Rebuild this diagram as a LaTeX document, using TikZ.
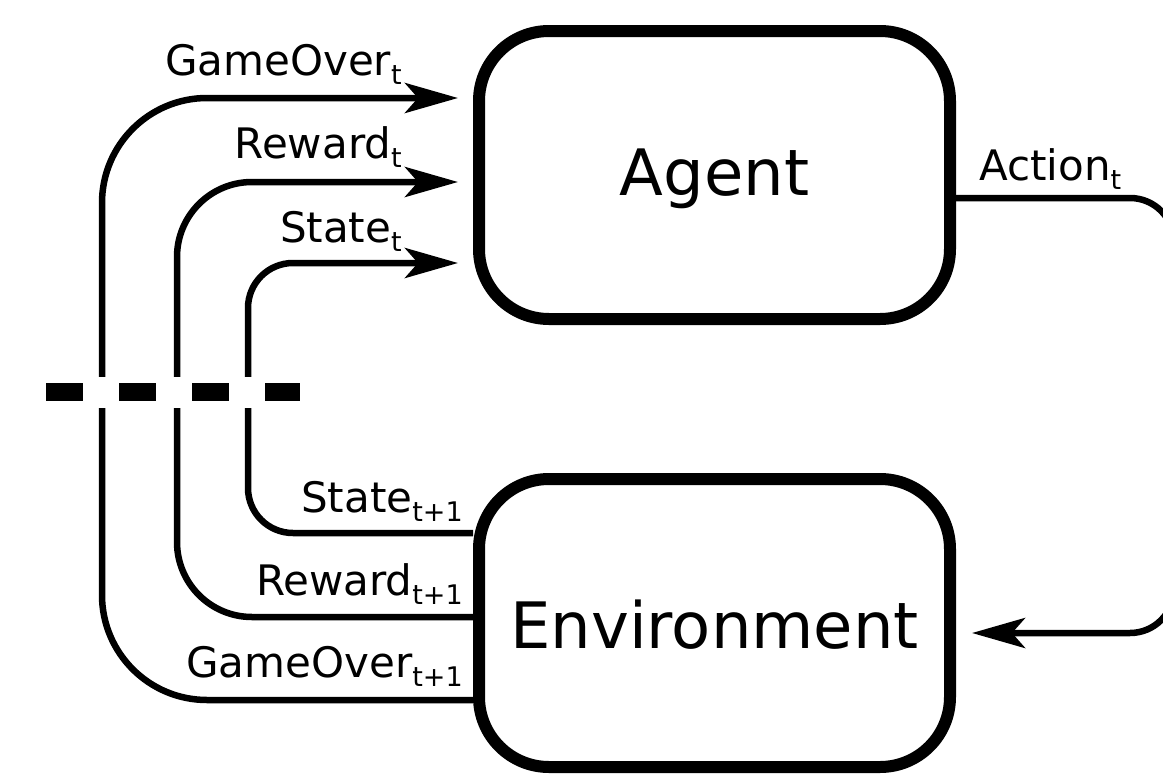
\documentclass[tikz,border=0pt]{standalone}
\usepackage{fontspec}
\setmainfont{DejaVu Sans}
\usetikzlibrary{arrows.meta}
% lowered, smaller index after a signal name
\newcommand\lowsub[1]{\raisebox{-9pt}{\fontsize{27}{27}\selectfont #1}}
\begin{document}
\begin{tikzpicture}[x=1pt,y=-1pt,
  panel/.style={draw, line width=12pt, rounded corners=70pt,
    minimum width=471pt, minimum height=288pt, inner sep=0pt,
    font=\fontsize{64}{64}\selectfont},
  conn/.style={line width=6.5pt, rounded corners=#1},
  into/.style={-{Stealth[length=53pt,width=30pt,inset=13pt]}},
  sig/.style={inner sep=0pt, font=\fontsize{42}{42}\selectfont}]
\useasboundingbox (0,0) rectangle (1163,774);
\clip (0,0) rectangle (1163,774);

% the two blocks
\node[panel, text height=47pt, text depth=7pt] (agent) at (714.5,175) {Agent};
\node[panel, text height=51pt, text depth=0pt] (env) at (714.5,623) {Environment};

% feedback from the environment to the agent
\draw[conn=45pt, into, shorten >=15pt]
  (env.west |- 0,533) -- (248,533) -- (248,263) -- (agent.west |- 0,263);
\draw[conn=75pt, into, shorten >=15pt]
  (env.west |- 0,617) -- (177,617) -- (177,182) -- (agent.west |- 0,182);
\draw[conn=105pt, into, shorten >=15pt]
  (env.west |- 0,700) -- (102,700) -- (102,98) -- (agent.west |- 0,98);

% action from the agent to the environment
\draw[conn=44pt, into, shorten >=16pt]
  (agent.east |- 0,198) -- (1174,198) -- (1174,633) -- (env.east |- 0,633);

% time-step boundary
\draw[white, line width=31pt] (46,392) -- (300,392);
\draw[line width=18pt, dash pattern=on 36.5pt off 36.5pt] (46,392) -- (300,392);

% signal labels
\node[sig, anchor=base east] (go0) at (402,75) {GameOver\lowsub{t}};
\node[sig, anchor=base east] (rw0) at (402,158) {Reward\lowsub{t}};
\node[sig, anchor=base east] (st0) at (402,242) {State\lowsub{t}};
\node[sig, anchor=base east] (st1) at (463,512) {State\lowsub{t+1}};
\node[sig, anchor=base east] (rw1) at (463,595) {Reward\lowsub{t+1}};
\node[sig, anchor=base east] (go1) at (463,677) {GameOver\lowsub{t+1}};
\node[sig, anchor=base west] (act) at (979,180) {Action\lowsub{t}};
\end{tikzpicture}
\end{document}
